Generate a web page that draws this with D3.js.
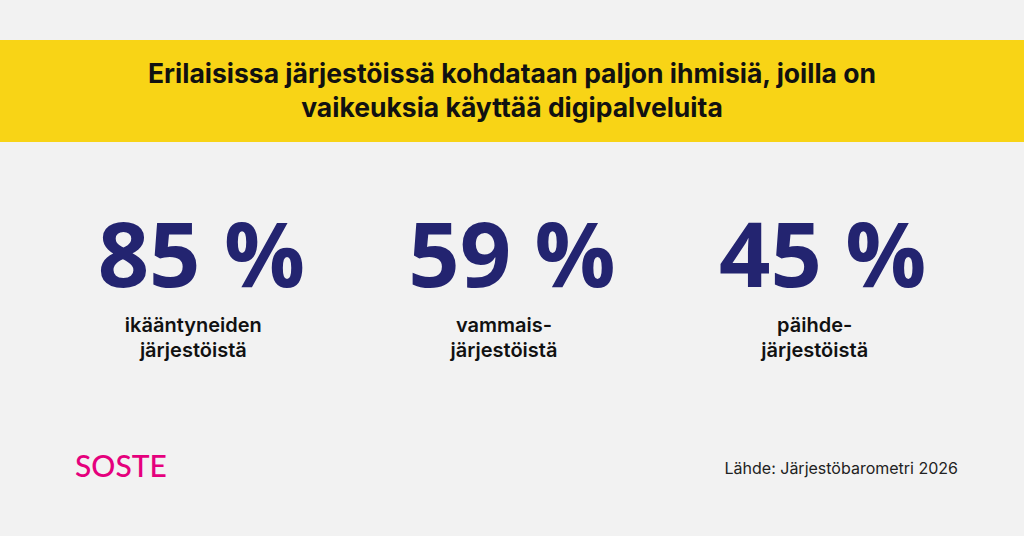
<!DOCTYPE html><html><head><meta charset="utf-8"><script src="https://cdn.jsdelivr.net/npm/d3@7"></script>
<style>body{margin:0;background:#f2f2f2}svg{display:block}</style></head><body><svg id="c" width="1024" height="536"></svg>
<script>
const titleLines=["Erilaisissa järjestöissä kohdataan paljon ihmisiä, joilla on","vaikeuksia käyttää digipalveluita"];
const categories=["ikääntyneiden","vammais-","päihde-"];
const labelLine2=["järjestöistä","järjestöistä","järjestöistä"];
const values=[85,59,45];
const source="Lähde: Järjestöbarometri 2026";
const svg=d3.select("#c");
svg.append("rect").attr("width",1024).attr("height",536).attr("fill","#f2f2f2");
svg.append("rect").attr("x",0).attr("y",40).attr("width",1024).attr("height",102).attr("fill","#f8d416");
svg.selectAll("text.t").data(titleLines).join("text").attr("x",512).attr("y",82+0.5).attr("dy",(d,i)=>i*34)
 .attr("text-anchor","middle").attr("font-family","Inter, 'Noto Sans', sans-serif").attr("font-weight",700)
 .attr("font-size",26.5).attr("fill","#111").text(d=>d);
const x=d3.scaleBand().domain(categories).range([46,978]).padding(0);
const g=svg.selectAll("g.c").data(categories).join("g").attr("transform",d=>`translate(${x(d)+x.bandwidth()/2},0)`);
g.append("text").attr("y",287).attr("x",0).attr("text-anchor","middle").attr("font-family","'Open Sans', sans-serif").attr("font-weight",700)
 .attr("font-size",90).attr("fill","#232470").text((d,i)=>values[i]+" %");
g.append("text").attr("y",332).attr("x",-8).attr("text-anchor","middle").attr("font-family","Inter, sans-serif").attr("font-weight",600)
 .attr("font-size",20).attr("fill","#111").text(d=>d);
g.append("text").attr("y",357).attr("x",-8).attr("text-anchor","middle").attr("font-family","Inter, sans-serif").attr("font-weight",600)
 .attr("font-size",20).attr("fill","#111").text((d,i)=>labelLine2[i]);
svg.append("text").attr("x",75).attr("y",477).attr("font-family","Lato, sans-serif").attr("font-weight",500)
 .attr("font-size",30).attr("fill","#e5007d").text("SOSTE");
svg.append("text").attr("x",958).attr("y",474).attr("text-anchor","end").attr("font-family","Inter, sans-serif")
 .attr("font-size",16).attr("fill","#222").text(source);
</script></body></html>
